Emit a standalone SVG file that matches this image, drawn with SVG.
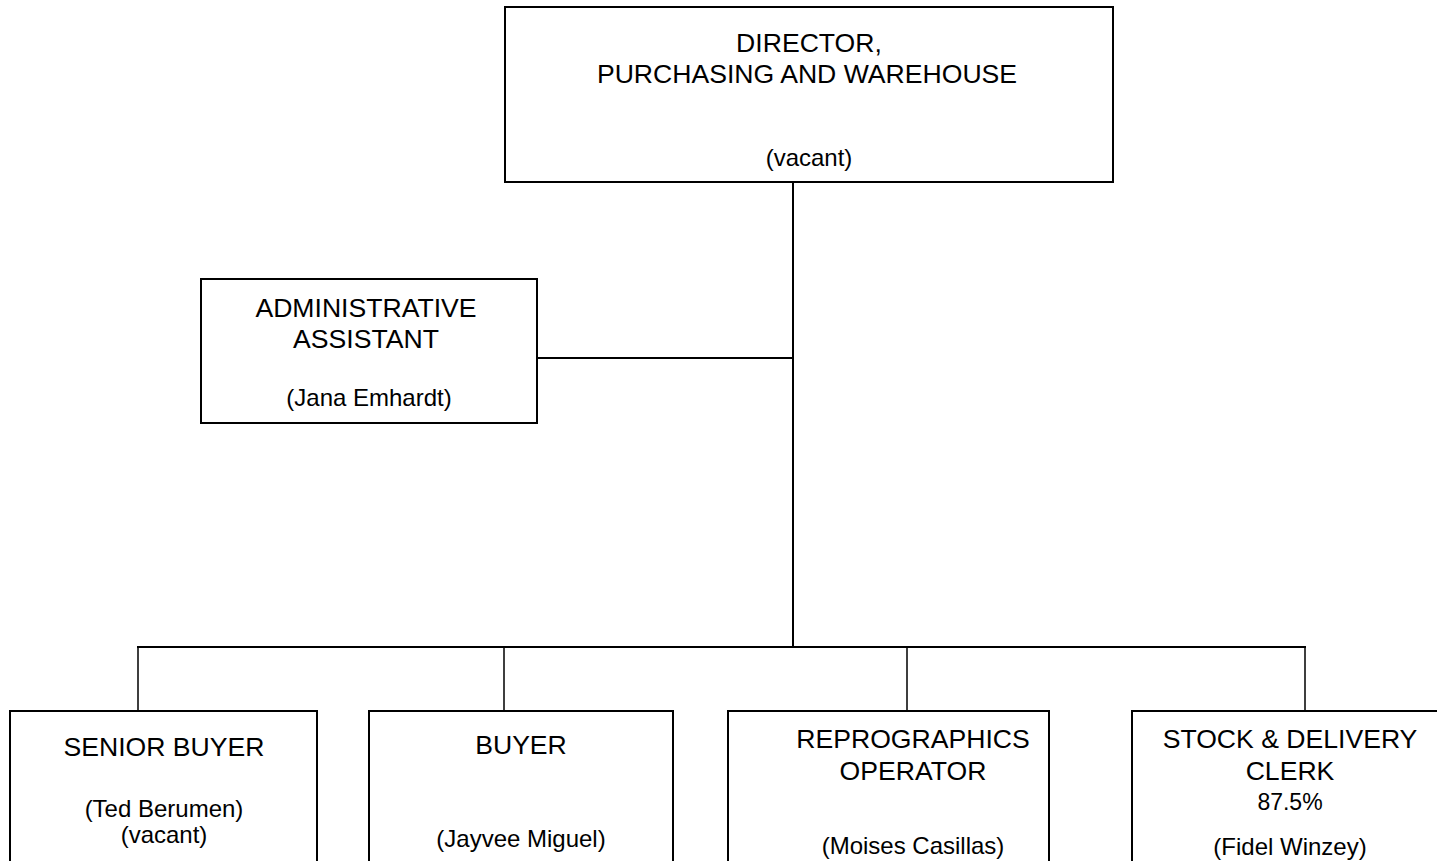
<svg xmlns="http://www.w3.org/2000/svg" width="1437" height="861" viewBox="0 0 1437 861">
<style>
.box{fill:#fff;stroke:#000;stroke-width:2}
.ln{stroke:#000;stroke-width:2;fill:none}
.thin{stroke:#000;stroke-width:1.5;fill:none}
text{font-family:"Liberation Sans",Arial,sans-serif;font-size:26.6px;fill:#000;text-anchor:middle}
.s{font-size:24px}
.p{font-size:23px}
</style>
<rect width="1437" height="861" fill="#fff"/>
<g id="connectors">
<path class="ln" d="M793 182V647"/>
<path class="ln" d="M537 358H793"/>
<path class="ln" d="M137 647H1306"/>
<path class="thin" d="M138 647V711M504 647V711M907 647V711M1305 647V711"/>
</g>
<g id="director">
<rect class="box" x="505" y="7" width="608" height="175"/>
<text x="809" y="52">DIRECTOR,</text>
<text x="807" y="83">PURCHASING AND WAREHOUSE</text>
<text x="809" y="166" class="s">(vacant)</text>
</g>
<g id="admin">
<rect class="box" x="201" y="279" width="336" height="144"/>
<text x="366" y="317">ADMINISTRATIVE</text>
<text x="366" y="348">ASSISTANT</text>
<text x="369" y="406" class="s">(Jana Emhardt)</text>
</g>
<g id="senior-buyer">
<rect class="box" x="10" y="711" width="307" height="170"/>
<text x="164" y="756">SENIOR BUYER</text>
<text x="164" y="817" class="s">(Ted Berumen)</text>
<text x="164" y="843" class="s">(vacant)</text>
</g>
<g id="buyer">
<rect class="box" x="369" y="711" width="304" height="170"/>
<text x="521" y="754">BUYER</text>
<text x="521" y="847" class="s">(Jayvee Miguel)</text>
</g>
<g id="reprographics">
<rect class="box" x="728" y="711" width="321" height="170"/>
<text x="913" y="748">REPROGRAPHICS</text>
<text x="913" y="780">OPERATOR</text>
<text x="913" y="854" class="s">(Moises Casillas)</text>
</g>
<g id="stock">
<rect class="box" x="1132" y="711" width="320" height="170"/>
<text x="1290" y="748">STOCK &amp; DELIVERY</text>
<text x="1290" y="780">CLERK</text>
<text x="1290" y="810" class="p">87.5%</text>
<text x="1290" y="855" class="s">(Fidel Winzey)</text>
</g>
</svg>
